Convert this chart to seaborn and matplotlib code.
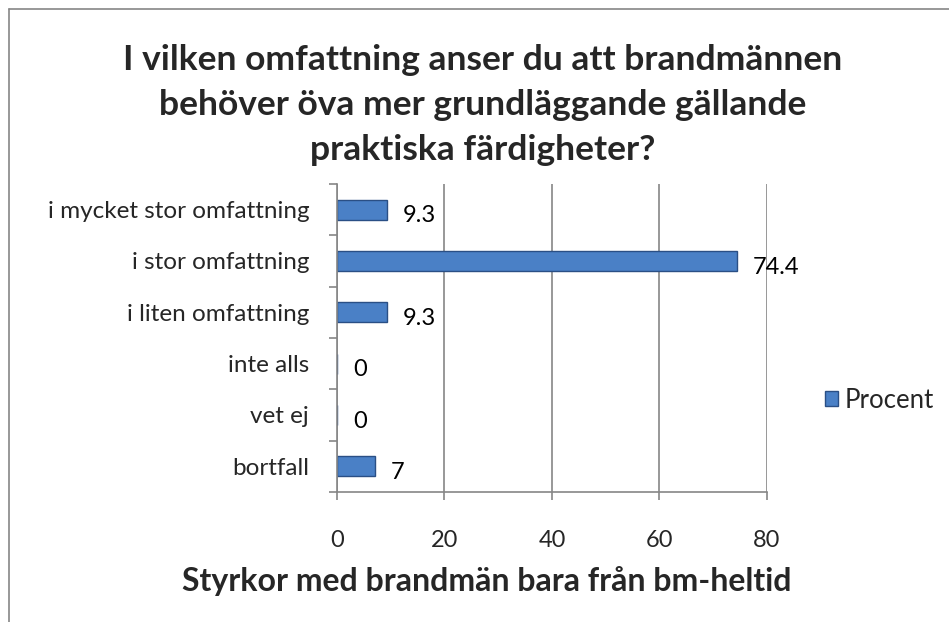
import matplotlib as mpl
import matplotlib.pyplot as plt
import seaborn as sns
import pandas as pd

categories = [
    "i mycket stor omfattning",
    "i stor omfattning",
    "i liten omfattning",
    "inte alls",
    "vet ej",
    "bortfall",
]
procent = [9.3, 74.4, 9.3, 0, 0, 7]
value_labels = ["9.3", "74.4", "9.3", "0", "0", "7"]
x_ticks = [0, 20, 40, 60, 80]

title = "I vilken omfattning anser du att brandmännen\nbehöver öva mer grundläggande gällande\npraktiska färdigheter?"
xlabel = "Styrkor med brandmän bara från bm-heltid"

df = pd.DataFrame({"kategori": categories, "Procent": procent, "serie": "Procent"})

sns.set_style("white")
plt.rcParams["font.family"] = ["Lato", "DejaVu Sans"]

fig = plt.figure(figsize=(9.49, 6.22), dpi=100)
ax = fig.add_axes([0.3551, 0.209, 0.4531, 0.4952])

sns.barplot(
    data=df,
    x="Procent",
    y="kategori",
    hue="serie",
    orient="h",
    ax=ax,
    palette=["#4A80C6"],
    saturation=1,
    edgecolor="#2A4F85",
    linewidth=1,
    width=0.39,
    errorbar=None,
)

for i, (v, lab) in enumerate(zip(procent, value_labels)):
    ax.text(v + 3.0, i + 0.12, lab, va="center", ha="left", fontsize=17, color="#000000")

ax.set_xlim(0, 80)
ax.set_xticks(x_ticks)
ax.set_xticklabels([str(t) for t in x_ticks], fontsize=17)
ax.xaxis.grid(True, color="#868686", linewidth=1.2)
ax.set_axisbelow(True)
ax.set_ylim(len(categories) - 0.5, -0.5)
ax.set_yticks(range(len(categories)))
ax.set_yticklabels(categories)
ax.tick_params(axis="y", length=0, labelsize=17.5, pad=20)
ax.tick_params(axis="x", length=6, color="#868686", width=1.2, pad=21, bottom=True)
ax.set_yticks([i + 0.5 for i in range(-1, len(categories))], minor=True)
ax.tick_params(axis="y", which="minor", length=6, color="#868686", width=1.2, left=True)

for s in ["top", "right"]:
    ax.spines[s].set_visible(False)
for s in ["left", "bottom"]:
    ax.spines[s].set_color("#868686")
    ax.spines[s].set_linewidth(1.2)

ax.set_ylabel("")
ax.set_xlabel("")

leg = ax.legend(
    loc="center left",
    bbox_to_anchor=(825 / 949, 1 - 400 / 622),
    bbox_transform=fig.transFigure,
    frameon=False,
    fontsize=18.5,
    borderaxespad=0,
    borderpad=0,
    handlelength=0.5,
    handleheight=0.5,
    handletextpad=0.25,
)

fig.text(0.509, 0.831, title, ha="center", va="center", fontsize=25.5, fontweight="bold", linespacing=1.5)
fig.text(0.513, 0.066, xlabel, ha="center", va="center", fontsize=23, fontweight="bold")

# chart frame
fig.add_artist(plt.Line2D([0.009, 0.009], [0, 0.986], color="#868686", linewidth=1.2))
fig.add_artist(plt.Line2D([0.009, 1.0], [0.986, 0.986], color="#868686", linewidth=1.2))

fig.savefig("out.png", dpi=100)
